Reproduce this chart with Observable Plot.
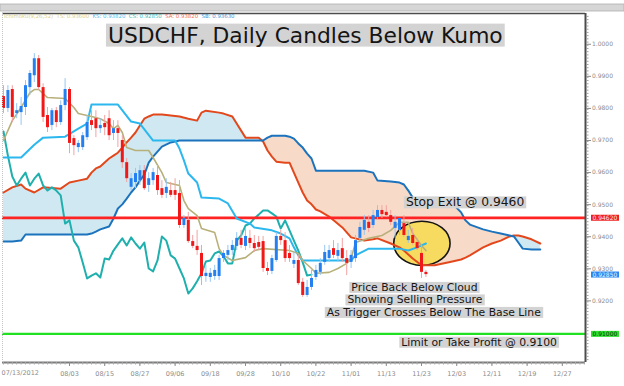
<!DOCTYPE html>
<html>
<head>
<meta charset="utf-8">
<script src="https://cdn.jsdelivr.net/npm/d3@7"></script>
<script src="https://cdn.jsdelivr.net/npm/@observablehq/plot@0.6"></script>
<style>
  html, body { margin: 0; padding: 0; background: #ffffff; }
  #chart svg { display: block; }
</style>
</head>
<body>
<div id="chart"></div>
<script>
// ---------------- data ----------------
const openP = [0.9840,0.9803,0.9862,0.9787,0.9790,0.9806,0.9868,0.9905,0.9958,0.9868,
  0.9781,0.9750,0.9796,0.9759,0.9812,0.9862,0.9709,0.9681,0.9681,0.9712,
  0.9765,0.9771,0.9740,0.9756,0.9771,0.9725,0.9740,0.9703,0.9634,0.9557,
  0.9572,0.9578,0.9609,0.9563,0.9578,0.9594,0.9553,0.9538,0.9547,0.9547,
  0.9538,0.9438,0.9454,0.9388,0.9373,0.9351,0.9279,0.9276,0.9279,0.9279,
  0.9335,0.9345,0.9360,0.9373,0.9398,0.9373,0.9398,0.9382,0.9385,0.9388,
  0.9304,0.9295,0.9329,0.9404,0.9391,0.9351,0.9317,0.9329,0.9261,0.9220,
  0.9245,0.9276,0.9292,0.9323,0.9335,0.9366,0.9342,0.9366,0.9335,0.9323,
  0.9335,0.9398,0.9423,0.9448,0.9438,0.9463,0.9485,0.9479,0.9469,0.9429,
  0.9423,0.9444,0.9391,0.9407,0.9385,0.9351,0.9292];
const highP = [0.9874,0.9874,0.9874,0.9818,0.9837,0.9890,0.9921,0.9974,0.9968,0.9880,
  0.9806,0.9803,0.9806,0.9827,0.9896,0.9868,0.9718,0.9703,0.9728,0.9781,
  0.9796,0.9796,0.9771,0.9781,0.9796,0.9765,0.9765,0.9718,0.9647,0.9600,
  0.9616,0.9625,0.9625,0.9603,0.9616,0.9625,0.9578,0.9584,0.9572,0.9584,
  0.9578,0.9469,0.9479,0.9407,0.9423,0.9376,0.9314,0.9304,0.9314,0.9345,
  0.9360,0.9376,0.9391,0.9416,0.9423,0.9429,0.9423,0.9407,0.9404,0.9404,
  0.9323,0.9345,0.9416,0.9423,0.9416,0.9376,0.9354,0.9345,0.9273,0.9267,
  0.9298,0.9314,0.9335,0.9376,0.9376,0.9391,0.9382,0.9398,0.9360,0.9360,
  0.9407,0.9448,0.9469,0.9469,0.9485,0.9500,0.9500,0.9500,0.9485,0.9469,
  0.9460,0.9469,0.9423,0.9429,0.9398,0.9376,0.9298];
const lowP = [0.9787,0.9790,0.9759,0.9771,0.9750,0.9781,0.9843,0.9884,0.9859,0.9759,
  0.9728,0.9734,0.9743,0.9750,0.9796,0.9662,0.9656,0.9665,0.9672,0.9703,
  0.9734,0.9712,0.9725,0.9718,0.9703,0.9703,0.9681,0.9616,0.9572,0.9547,
  0.9553,0.9563,0.9547,0.9541,0.9563,0.9532,0.9522,0.9522,0.9525,0.9516,
  0.9429,0.9429,0.9382,0.9366,0.9345,0.9251,0.9261,0.9261,0.9267,0.9267,
  0.9323,0.9329,0.9345,0.9360,0.9366,0.9360,0.9366,0.9354,0.9360,0.9292,
  0.9282,0.9285,0.9323,0.9376,0.9323,0.9323,0.9304,0.9251,0.9214,0.9214,
  0.9236,0.9267,0.9282,0.9314,0.9323,0.9335,0.9323,0.9323,0.9282,0.9304,
  0.9323,0.9385,0.9407,0.9416,0.9429,0.9454,0.9460,0.9463,0.9438,0.9398,
  0.9407,0.9401,0.9382,0.9376,0.9360,0.9273,0.9276];
const closeP = [0.9803,0.9859,0.9775,0.9796,0.9809,0.9874,0.9912,0.9958,0.9868,0.9775,
  0.9743,0.9796,0.9759,0.9812,0.9862,0.9694,0.9687,0.9694,0.9718,0.9759,
  0.9750,0.9740,0.9750,0.9743,0.9718,0.9740,0.9725,0.9634,0.9584,0.9584,
  0.9600,0.9609,0.9553,0.9584,0.9603,0.9547,0.9532,0.9557,0.9532,0.9532,
  0.9438,0.9460,0.9388,0.9373,0.9360,0.9279,0.9289,0.9289,0.9298,0.9335,
  0.9351,0.9360,0.9376,0.9398,0.9376,0.9404,0.9382,0.9366,0.9370,0.9304,
  0.9295,0.9335,0.9404,0.9391,0.9335,0.9335,0.9329,0.9257,0.9220,0.9245,
  0.9273,0.9298,0.9320,0.9354,0.9360,0.9345,0.9360,0.9335,0.9320,0.9345,
  0.9391,0.9432,0.9454,0.9429,0.9469,0.9485,0.9472,0.9469,0.9448,0.9448,
  0.9460,0.9407,0.9404,0.9382,0.9366,0.9292,0.9285];

// Kumo (Senkou spans), read at the same bar positions
const cloudIndex = [0,2,4,5,7,9,13,15,17,19,20,21,22,24,25,26,27,28,29,30,
  31,32,33,34,36,38,40,42,44,45,46,49,50,52,55,58,59,60,61,62,
  64,65,66,67,68,69,70,71,72,74,77,79,82,84,85,88,90,91,92,93,
  95,98,102,104,105,106,109,111,113,115,116,117,118,120,122];
const senkouA = [0.9541,0.9557,0.9566,0.9553,0.9541,0.9557,0.9553,0.9572,0.9578,0.9584,
  0.9603,0.9616,0.9622,0.9647,0.9656,0.9665,0.9681,0.9697,0.9712,0.9728,
  0.9750,0.9771,0.9778,0.9784,0.9784,0.9781,0.9778,0.9771,0.9765,0.9790,
  0.9796,0.9790,0.9787,0.9778,0.9712,0.9712,0.9700,0.9672,0.9653,0.9637,
  0.9634,0.9634,0.9603,0.9572,0.9541,0.9516,0.9504,0.9488,0.9482,0.9466,
  0.9432,0.9401,0.9391,0.9395,0.9398,0.9382,0.9370,0.9360,0.9348,0.9335,
  0.9314,0.9314,0.9326,0.9332,0.9338,0.9345,0.9370,0.9382,0.9391,0.9404,
  0.9407,0.9407,0.9404,0.9395,0.9382];
const senkouB = [0.9388,0.9388,0.9391,0.9410,0.9410,0.9410,0.9410,0.9410,0.9410,0.9410,
  0.9413,0.9419,0.9426,0.9435,0.9460,0.9491,0.9504,0.9522,0.9541,0.9557,
  0.9578,0.9597,0.9634,0.9653,0.9684,0.9697,0.9703,0.9703,0.9703,0.9703,
  0.9703,0.9703,0.9703,0.9703,0.9703,0.9703,0.9703,0.9712,0.9718,0.9718,
  0.9718,0.9715,0.9709,0.9694,0.9681,0.9662,0.9647,0.9609,0.9609,0.9609,
  0.9609,0.9609,0.9609,0.9603,0.9578,0.9575,0.9572,0.9566,0.9547,0.9525,
  0.9522,0.9516,0.9507,0.9479,0.9454,0.9441,0.9426,0.9419,0.9413,0.9407,
  0.9404,0.9385,0.9366,0.9363,0.9363];

const tenkanIndex = [0,2,4,6,7,8,10,14,16,17,20,22,24,25,26,27,28,30,33,34,
  36,37,40,41,42,44,45,48,49,50,52,55,57,59,65,67,68,70,71,74,
  76,78,79,80,83,86,88,90,92,93,95,96];
const tenkanValue = [0.9703,0.9765,0.9806,0.9852,0.9862,0.9862,0.9837,0.9834,0.9806,0.9787,
  0.9778,0.9771,0.9756,0.9740,0.9750,0.9728,0.9681,0.9672,0.9672,0.9650,
  0.9603,0.9572,0.9563,0.9516,0.9491,0.9469,0.9429,0.9416,0.9366,0.9345,
  0.9329,0.9338,0.9360,0.9366,0.9360,0.9351,0.9329,0.9304,0.9289,0.9292,
  0.9304,0.9320,0.9335,0.9385,0.9398,0.9407,0.9423,0.9448,0.9448,0.9413,
  0.9376,0.9360];

const kijunIndex = [0,4,7,9,14,17,19,20,26,29,31,34,39,40,41,42,44,45,49,51,
  53,56,57,61,63,65,66,67,68,79,80,83,90,92,94,96];
const kijunValue = [0.9650,0.9650,0.9690,0.9712,0.9715,0.9740,0.9756,0.9815,0.9815,0.9762,
  0.9756,0.9703,0.9703,0.9678,0.9641,0.9600,0.9572,0.9525,0.9522,0.9507,
  0.9460,0.9444,0.9432,0.9423,0.9413,0.9398,0.9370,0.9345,0.9329,0.9329,
  0.9345,0.9366,0.9366,0.9360,0.9370,0.9382];

// Chikou span, one value per bar from the first bar
const chikouValue = [0.9731,0.9656,0.9591,0.9563,0.9584,0.9603,0.9563,0.9584,0.9600,0.9563,
  0.9547,0.9557,0.9547,0.9532,0.9444,0.9454,0.9391,0.9370,0.9323,0.9273,
  0.9282,0.9289,0.9276,0.9335,0.9332,0.9360,0.9379,0.9398,0.9376,0.9401,
  0.9382,0.9366,0.9385,0.9304,0.9295,0.9329,0.9404,0.9391,0.9345,0.9335,
  0.9304,0.9273,0.9226,0.9242,0.9264,0.9289,0.9326,0.9329,0.9351,0.9357,
  0.9342,0.9320,0.9320,0.9391,0.9407,0.9438,0.9444,0.9460,0.9472,0.9485,
  0.9485,0.9476,0.9466,0.9429,0.9454,0.9423,0.9391,0.9360,0.9323,0.9282,
  0.9285];

const stopLevel = 0.9462;
const targetLevel = 0.9100;
const lastPrice = 0.9285;

const xTickIndex = [0,15,23,31,39,47,55,63,71,79,87,95,103,111,119,127];
const xTickLabels = ["07/13/2012","08/03","08/15","08/27","09/06","09/18","09/28","10/10",
  "10/22","11/01","11/13","11/23","12/03","12/11","12/19","12/27"];
const yTickValues = [0.92,0.93,0.94,0.95,0.96,0.97,0.98,0.99,1.00];

const titleText = "USDCHF, Daily Candles Below Kumo";
const noteTexts = ["Stop Exit @ 0.9460", "Price Back Below Cloud", "Showing Selling Pressure",
  "As Trigger Crosses Below The Base Line", "Limit or Take Profit @ 0.9100"];

// ---------------- layout / style ----------------
const X_DOMAIN = [-0.227, 132.27];
const Y_DOMAIN = [0.9011, 1.0099];
const FONT = "DejaVu Sans";
const ns = "http://www.w3.org/2000/svg";

const notes = [
  {i: 68.6, p: 1.0030, text: titleText, size: 21.8},
  {i: 104.9, p: 0.9510, text: noteTexts[0], size: 12.3},
  {i: 93.4, p: 0.9245, text: noteTexts[1], size: 10.8},
  {i: 93.5, p: 0.9206, text: noteTexts[2], size: 10.8},
  {i: 97.8, p: 0.9167, text: noteTexts[3], size: 10.8},
  {i: 108.1, p: 0.9074, text: noteTexts[4], size: 10.8}
];
const circleNote = {i: 95.2, p: 0.9381, di: 6.4, dp: 0.0069};
const tags = [
  {p: stopLevel, bg: "#ee2020", fg: "#ffe4e4"},
  {p: lastPrice, bg: "#2a86f0", fg: "#eef5ff"},
  {p: targetLevel, bg: "#2ee02e", fg: "#0c3a0c"}
];

const bars = openP.map((o, i) => ({i, open: o, high: highP[i], low: lowP[i], close: closeP[i]}));
const upBars = bars.filter(d => d.close >= d.open);
const downBars = bars.filter(d => d.close < d.open);
const cloud = cloudIndex.map((i, k) => ({i, a: senkouA[k], b: senkouB[k]}));
const tenkan = tenkanIndex.map((i, k) => ({i, v: tenkanValue[k]}));
const kijun = kijunIndex.map((i, k) => ({i, v: kijunValue[k]}));
const chikou = chikouValue.map((v, i) => ({i, v}));

function ellipseMark(index, scales) {
  const sx = typeof scales.x === "function" ? scales.x : (v) => scales.scales.x.apply(v);
  const sy = typeof scales.y === "function" ? scales.y : (v) => scales.scales.y.apply(v);
  const cx = sx(circleNote.i), cy = sy(circleNote.p);
  const rx = Math.abs(sx(circleNote.i + circleNote.di) - cx);
  const ry = Math.abs(sy(circleNote.p + circleNote.dp) - cy);
  const e = document.createElementNS(ns, "ellipse");
  e.setAttribute("cx", cx); e.setAttribute("cy", cy);
  e.setAttribute("rx", rx); e.setAttribute("ry", ry);
  e.setAttribute("fill", "#f7da60");
  e.setAttribute("stroke", "#141414");
  e.setAttribute("stroke-width", 1.6);
  return e;
}

const chart = Plot.plot({
  width: 624,
  height: 386,
  marginLeft: 2,
  marginRight: 39,
  marginTop: 13,
  marginBottom: 24,
  style: {fontFamily: FONT, background: "#ffffff"},
  x: {type: "linear", domain: X_DOMAIN, axis: null, label: null},
  y: {type: "linear", domain: Y_DOMAIN, axis: null, label: null},
  marks: [
    Plot.areaY(cloud, {x: "i", y1: "a", y2: d => (d.a > d.b ? d.b : d.a), fill: "#cfe8f1"}),
    Plot.areaY(cloud, {x: "i", y1: "b", y2: d => (d.b > d.a ? d.a : d.b), fill: "#f7dac8"}),
    ellipseMark,
    Plot.ruleY([targetLevel], {stroke: "#22e022", strokeWidth: 2.2}),
    Plot.line(cloud, {x: "i", y: "a", stroke: "#e2481c", strokeWidth: 2}),
    Plot.line(cloud, {x: "i", y: "b", stroke: "#1b73be", strokeWidth: 2}),
    Plot.line(chikou, {x: "i", y: "v", stroke: "#1fb0ae", strokeWidth: 2}),
    Plot.ruleY([stopLevel], {stroke: "#ff2424", strokeWidth: 2.6}),
    Plot.line(kijun, {x: "i", y: "v", stroke: "#2cb8ee", strokeWidth: 2}),
    Plot.line(tenkan, {x: "i", y: "v", stroke: "#b8b07a", strokeWidth: 1.6}),
    Plot.ruleX(downBars, {x: "i", y1: "low", y2: "high", stroke: "#f3a2a2", strokeWidth: 1}),
    Plot.ruleX(upBars, {x: "i", y1: "low", y2: "high", stroke: "#98c6f2", strokeWidth: 1}),
    Plot.ruleX(downBars, {x: "i", y1: "open", y2: "close", stroke: "#f01818", strokeWidth: 3}),
    Plot.ruleX(upBars, {x: "i", y1: "open", y2: "close", stroke: "#2480f0", strokeWidth: 3}),
    // annotations
    Plot.text(notes, {x: "i", y: "p", text: "text", fontSize: d => d.size, fontFamily: FONT, fill: "#151515"}),
    // frame
    Plot.ruleY([Y_DOMAIN[0]], {stroke: "#7c7c7c", strokeWidth: 2}),
    Plot.ruleY([Y_DOMAIN[1]], {stroke: "#4c4c4c", strokeWidth: 1.6}),
    Plot.ruleX([X_DOMAIN[1]], {stroke: "#4c4c4c", strokeWidth: 2}),
    Plot.ruleX([X_DOMAIN[0]], {stroke: "#c4c4c4", strokeWidth: 1, strokeDasharray: "1,1"}),
    // axes
    Plot.axisY({anchor: "right", ticks: d3.range(0.902, 1.0095, 0.001), tickSize: 2.5, tickFormat: () => "", stroke: "#a0a0a0", label: null}),
    Plot.axisY({anchor: "right", ticks: yTickValues, tickSize: 5, tickPadding: 1.5, tickFormat: d => d.toFixed(4), fontSize: 6, dy: -1, fill: "#8c8c8c", stroke: "#8c8c8c", label: null}),
    Plot.axisX({anchor: "bottom", ticks: d3.range(0, 133), tickSize: 2.5, tickFormat: () => "", stroke: "#a8a8a8", label: null}),
    Plot.axisX({anchor: "bottom", ticks: xTickIndex.slice(1), tickSize: 4, tickPadding: 5, tickFormat: i => xTickLabels[xTickIndex.indexOf(i)], fontSize: 6.5, fill: "#8c8c8c", stroke: "#8c8c8c", label: null}),
    Plot.text([{i: xTickIndex[0], label: xTickLabels[0]}], {x: "i", text: "label", frameAnchor: "bottom", dy: 12, dx: -2, textAnchor: "start", fontSize: 6.5, fill: "#8c8c8c"}),
    // price tags on the right axis
    Plot.text(tags, {y: "p", text: d => d.p.toFixed(5), frameAnchor: "right", dx: 7, dy: 0.5, textAnchor: "start", fontSize: 6, fill: d => d.fg})
  ]
});

document.getElementById("chart").append(chart);

// gray / coloured boxes behind annotation texts and price tags
const noteSet = new Set(notes.map(d => d.text));
const tagMap = new Map(tags.map(d => [d.p.toFixed(5), d.bg]));
function boxBehind(t, fill, padX, padY) {
  const b = t.getBBox();
  const r = document.createElementNS(ns, "rect");
  r.setAttribute("x", b.x - padX);
  r.setAttribute("y", b.y - padY);
  r.setAttribute("width", b.width + 2 * padX);
  r.setAttribute("height", b.height + 2 * padY);
  const tr = t.getAttribute("transform");
  if (tr) r.setAttribute("transform", tr);
  r.setAttribute("fill", fill);
  r.setAttribute("stroke", "none");
  t.parentNode.insertBefore(r, t);
}
Array.from(chart.querySelectorAll("text")).forEach(t => {
  const s = t.textContent;
  if (noteSet.has(s)) boxBehind(t, "#d3d3d3", 2, -1);
  else if (tagMap.has(s)) boxBehind(t, tagMap.get(s), 1.5, -0.5);
});

// window chrome above the plot: scroll bar and indicator legend
(function chrome() {
  const bar = document.createElementNS(ns, "rect");
  bar.setAttribute("x", 0); bar.setAttribute("y", 4);
  bar.setAttribute("width", 624); bar.setAttribute("height", 7);
  bar.setAttribute("fill", "#d6d6d6"); bar.setAttribute("stroke", "#b0b0b0"); bar.setAttribute("stroke-width", 0.8);
  chart.insertBefore(bar, chart.firstChild);
  const legend = document.createElementNS(ns, "text");
  legend.setAttribute("x", 4); legend.setAttribute("y", 18);
  legend.setAttribute("text-anchor", "start");
  legend.setAttribute("font-size", 5.4); legend.setAttribute("font-family", FONT);
  const parts = [
    ["Ichimoku(9,26,52)  TS: " + tenkanValue[tenkanValue.length - 1].toFixed(5) + "  ", "#d8cf92"],
    ["KS: " + kijunValue[kijunValue.length - 1].toFixed(5) + "  ", "#4cc0f0"],
    ["CS: " + chikouValue[chikouValue.length - 1].toFixed(5) + "  ", "#3cbcbc"],
    ["SA: " + senkouA[senkouA.length - 1].toFixed(5) + "  ", "#f07050"],
    ["SB: " + senkouB[senkouB.length - 1].toFixed(5), "#4a8fd0"]
  ];
  for (const [txt, col] of parts) {
    const ts = document.createElementNS(ns, "tspan");
    ts.setAttribute("fill", col);
    ts.textContent = txt;
    legend.appendChild(ts);
  }
  chart.appendChild(legend);
})();
</script>
</body>
</html>
